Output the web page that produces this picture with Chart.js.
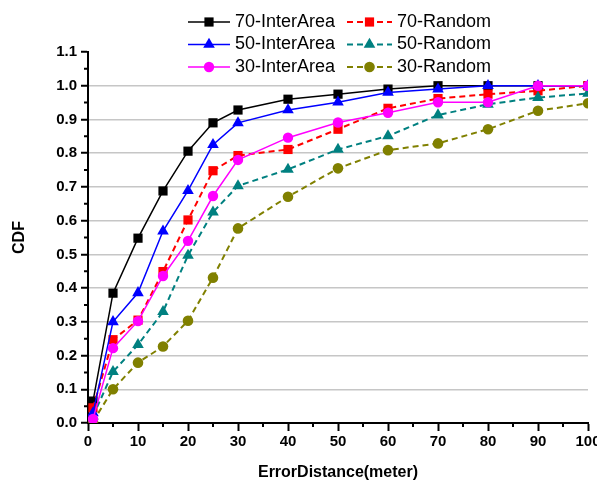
<!DOCTYPE html>
<html>
<head>
<meta charset="utf-8">
<script src="https://cdn.jsdelivr.net/npm/chart.js@4.4.1/dist/chart.umd.min.js"></script>
<style>
  html, body { margin: 0; padding: 0; background: #fff; overflow: hidden; }
  canvas { display: block; }
</style>
</head>
<body>
<canvas id="cdfChart" width="610" height="482"></canvas>
<script>
// error distance samples (meters) and the CDF of each method
var distances = [1, 5, 10, 15, 20, 25, 30, 40, 50, 60, 70, 80, 90, 100];
var seriesNames = ['70-InterArea', '70-Random', '50-InterArea', '50-Random', '30-InterArea', '30-Random'];
var inter70  = [0.065, 0.385, 0.548, 0.688, 0.806, 0.890, 0.928, 0.960, 0.975, 0.990, 1.000, 1.000, 1.000, 1.000];
var random70 = [0.045, 0.247, 0.305, 0.449, 0.602, 0.748, 0.793, 0.811, 0.871, 0.933, 0.962, 0.975, 0.985, 1.000];
var inter50  = [0.030, 0.300, 0.386, 0.569, 0.689, 0.825, 0.890, 0.928, 0.951, 0.980, 0.990, 1.000, 1.000, 1.000];
var random50 = [0.020, 0.152, 0.232, 0.330, 0.497, 0.625, 0.703, 0.752, 0.811, 0.851, 0.913, 0.945, 0.965, 0.977];
var inter30  = [0.012, 0.222, 0.302, 0.436, 0.540, 0.673, 0.780, 0.846, 0.891, 0.920, 0.951, 0.951, 1.000, 1.000];
var random30 = [0.004, 0.100, 0.179, 0.227, 0.303, 0.431, 0.577, 0.671, 0.755, 0.809, 0.829, 0.871, 0.926, 0.948];
var xTicks = [0, 10, 20, 30, 40, 50, 60, 70, 80, 90, 100];
var yTicks = [0, 0.1, 0.2, 0.3, 0.4, 0.5, 0.6, 0.7, 0.8, 0.9, 1.0, 1.1];

Chart.defaults.font.family = "'Liberation Sans', Arial, sans-serif";
Chart.defaults.color = '#000';

function points(ys) {
    return distances.map(function (d, i) { return { x: d, y: ys[i] }; });
}

function series(name, ys, color, style, radius, dashed, order) {
    return {
        label: name,
        data: points(ys),
        borderColor: color,
        backgroundColor: color,
        borderWidth: dashed ? 2 : 1.5,
        borderDash: dashed ? [6, 4] : [],
        pointStyle: style,
        pointRadius: radius,
        pointBorderWidth: 0,
        pointHoverRadius: radius,
        tension: 0,
        order: order
    };
}

// small ticks halfway between the labelled ones
var minorTicks = {
    id: 'minorTicks',
    afterDraw: function (chart) {
        var ctx = chart.ctx, xs = chart.scales.x, ys = chart.scales.y;
        ctx.save();
        ctx.strokeStyle = '#000';
        ctx.lineWidth = 2;
        ctx.beginPath();
        for (var i = 0; i < xTicks.length - 1; i++) {
            var px = xs.getPixelForValue((xTicks[i] + xTicks[i + 1]) / 2);
            ctx.moveTo(px, xs.top);
            ctx.lineTo(px, xs.top + 4);
        }
        for (var j = 0; j < yTicks.length - 1; j++) {
            var py = ys.getPixelForValue((yTicks[j] + yTicks[j + 1]) / 2);
            ctx.moveTo(ys.right, py);
            ctx.lineTo(ys.right - 4, py);
        }
        ctx.stroke();
        ctx.restore();
    }
};

// two-column legend sitting over the top of the plot
var cornerLegend = {
    id: 'cornerLegend',
    afterDraw: function (chart) {
        var ctx = chart.ctx;
        var cols = [{ x0: 188, x1: 230, tx: 235 }, { x0: 347, x1: 392, tx: 397 }];
        var rows = [22, 44.5, 67];
        ctx.save();
        ctx.font = "18px 'Liberation Sans', Arial, sans-serif";
        ctx.textBaseline = 'middle';
        ctx.textAlign = 'left';
        chart.data.datasets.forEach(function (ds, i) {
            var c = cols[i % 2], y = rows[Math.floor(i / 2)];
            ctx.strokeStyle = ds.borderColor;
            ctx.lineWidth = ds.borderWidth;
            ctx.setLineDash(ds.borderDash);
            ctx.beginPath();
            ctx.moveTo(c.x0, y);
            ctx.lineTo(c.x1, y);
            ctx.stroke();
            ctx.setLineDash([]);
            ctx.fillStyle = ds.backgroundColor;
            Chart.helpers.drawPoint(ctx, { pointStyle: ds.pointStyle, radius: ds.pointRadius, borderWidth: 0, rotation: 0 }, (c.x0 + c.x1) / 2, y);
            ctx.fillStyle = '#000';
            ctx.fillText(ds.label, c.tx, y);
        });
        ctx.restore();
    }
};

var ctx = document.getElementById('cdfChart').getContext('2d');
var cdfChart = new Chart(ctx, {
    type: 'line',
    data: {
        datasets: [
            series(seriesNames[0], inter70, '#000000', 'rect', 6.5, false, 5),
            series(seriesNames[1], random70, '#ff0000', 'rect', 6.5, true, 4),
            series(seriesNames[2], inter50, '#0000ff', 'triangle', 6.7, false, 1),
            series(seriesNames[3], random50, '#008080', 'triangle', 6.7, true, 3),
            series(seriesNames[4], inter30, '#ff00ff', 'circle', 5.2, false, 0),
            series(seriesNames[5], random30, '#808000', 'circle', 5.3, true, 2)
        ]
    },
    options: {
        responsive: false,
        animation: false,
        devicePixelRatio: 1,
        layout: { padding: { top: 52, right: 22, left: 0, bottom: 0 } },
        plugins: {
            legend: { display: false },
            tooltip: { enabled: false }
        },
        scales: {
            x: {
                type: 'linear',
                min: 0,
                max: 100,
                afterFit: function (scale) { scale.height = 59; },
                afterBuildTicks: function (scale) {
                    scale.ticks = xTicks.map(function (v) { return { value: v }; });
                },
                ticks: {
                    font: { size: 15, weight: 'bold' },
                    padding: 2,
                    maxRotation: 0,
                    autoSkip: false
                },
                grid: {
                    drawOnChartArea: false,
                    tickLength: 8,
                    tickColor: '#000',
                    tickWidth: 2
                },
                border: { color: '#000', width: 2 },
                title: {
                    display: true,
                    text: 'ErrorDistance(meter)',
                    font: { size: 16, weight: 'bold' },
                    padding: { top: 0, bottom: 0 }
                }
            },
            y: {
                min: 0,
                max: 1.1,
                afterFit: function (scale) { scale.width = 88; },
                afterBuildTicks: function (scale) {
                    scale.ticks = yTicks.map(function (v) { return { value: v }; });
                },
                ticks: {
                    font: { size: 15, weight: 'bold' },
                    padding: 4,
                    autoSkip: false,
                    callback: function (v) { return Number(v).toFixed(1); }
                },
                grid: {
                    color: function (c) {
                        return c.tick && c.tick.value > 1.05 ? 'rgba(0,0,0,0)' : '#c6c6c6';
                    },
                    lineWidth: 1.5,
                    tickLength: 7,
                    tickColor: '#000',
                    tickWidth: 2
                },
                border: { color: '#000', width: 2 },
                title: {
                    display: true,
                    text: 'CDF',
                    font: { size: 16, weight: 'bold' },
                    padding: { top: 10, bottom: 0 }
                }
            }
        }
    },
    plugins: [minorTicks, cornerLegend]
});
</script>
</body>
</html>
